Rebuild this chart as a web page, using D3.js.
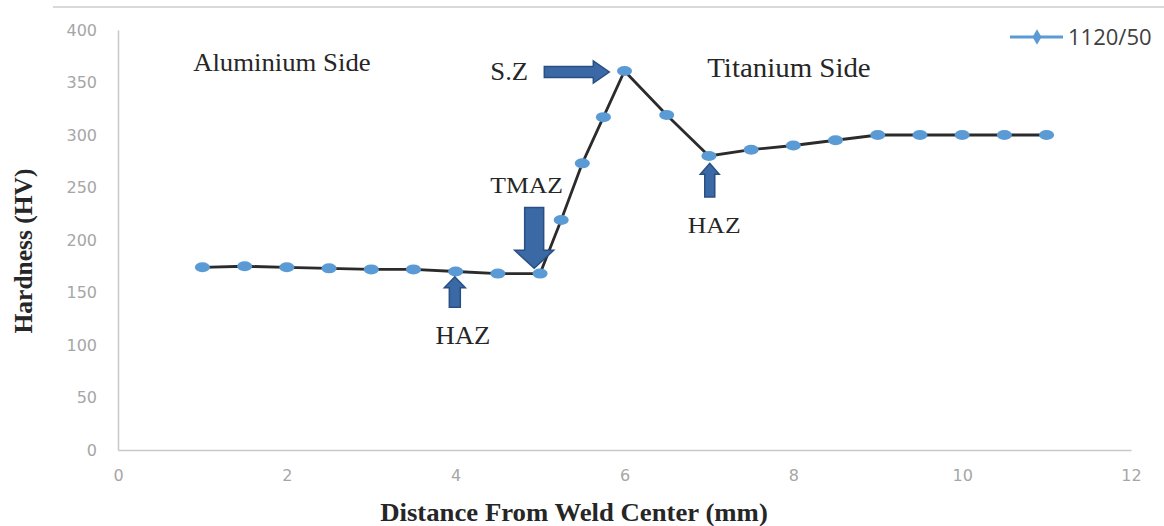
<!DOCTYPE html>
<html>
<head>
<meta charset="utf-8">
<script src="https://cdn.jsdelivr.net/npm/d3@7"></script>
<style>
  body { margin: 0; background: #fff; }
  svg { display: block; }
</style>
</head>
<body>
<svg id="chart" width="1164" height="526"></svg>
<script>
// hardness profile across the weld, 1120 rpm / 50 mm/min
const distance = [1, 1.5, 2, 2.5, 3, 3.5, 4, 4.5, 5, 5.25, 5.5, 5.75, 6, 6.5, 7, 7.5, 8, 8.5, 9, 9.5, 10, 10.5, 11];
const hardness = [174, 175, 174, 173, 172, 172, 170, 168, 168, 219, 273, 317, 361, 319, 280, 286, 290, 295, 300, 300, 300, 300, 300];

const xTicks = [0, 2, 4, 6, 8, 10, 12];
const yTicks = [0, 50, 100, 150, 200, 250, 300, 350, 400];

const seriesName = '1120/50';

// text notes, placed in data units (mm, HV)
const noteText = ['Aluminium Side', 'S.Z', 'Titanium Side', 'TMAZ', 'HAZ', 'HAZ'];
const noteX    = [0.89, 4.41, 6.98, 4.41, 3.76, 6.75];
const noteY    = [361, 352, 355, 245, 101, 207];
const noteSize = [25, 25, 27, 24, 25, 24];

// block arrows: tail -> tip, in data units
const arrowX1 = [5.05, 4.93, 3.99, 7.01];
const arrowY1 = [360, 231, 136, 241];
const arrowX2 = [5.82, 4.93, 3.99, 7.01];
const arrowY2 = [360, 173, 165, 273];
const arrowShaft = [11, 19, 11, 10];
const arrowHead  = [22, 39, 21, 19];
const arrowHeadL = [16, 18, 11, 11];

const data = distance.map((d, i) => ({ x: d, y: hardness[i] }));

const svg = d3.select('#chart');

const x = d3.scaleLinear().domain([0, 12]).range([118, 1131]);
const y = d3.scaleLinear().domain([0, 400]).range([450, 30]);

// the source picture is a little wider than tall, stretch text to suit
const stretch = 1.07;

// faint frame edge along the top
svg.append('line')
    .attr('x1', 53).attr('x2', 1164)
    .attr('y1', 7).attr('y2', 7)
    .attr('stroke', '#d9d9d9')
    .attr('stroke-width', 2);

let xAxis = svg.append('g')
    .attr('transform', 'translate(0,450)')
    .call(d3.axisBottom(x).tickValues(xTicks).tickSize(0).tickPadding(20));

let yAxis = svg.append('g')
    .attr('transform', 'translate(118,0)')
    .call(d3.axisLeft(y).tickValues(yTicks).tickSize(0).tickPadding(21));

[xAxis, yAxis].forEach(g => {
    g.select('.domain').attr('stroke', '#c8c8c8').attr('stroke-width', 1.5);
    g.selectAll('text')
        .attr('fill', '#a6a6a6')
        .style('font-family', 'DejaVu Sans')
        .style('font-size', '16px');
});

svg.append('text')
    .attr('transform', `translate(574,521) scale(${stretch},1)`)
    .attr('text-anchor', 'middle')
    .style('font-family', 'Liberation Serif')
    .style('font-weight', 'bold')
    .style('font-size', '25px')
    .attr('fill', '#262626')
    .text('Distance From Weld Center (mm)');

svg.append('text')
    .attr('transform', 'translate(32,251) rotate(-90)')
    .attr('text-anchor', 'middle')
    .style('font-family', 'Liberation Serif')
    .style('font-weight', 'bold')
    .style('font-size', '25.5px')
    .attr('fill', '#262626')
    .text('Hardness (HV)');

let line = d3.line()
    .x(d => x(d.x))
    .y(d => y(d.y));

svg.append('path')
    .datum(data)
    .attr('d', line)
    .attr('fill', 'none')
    .attr('stroke', '#2b2b2b')
    .attr('stroke-width', 2.8);

svg.append('g')
    .selectAll('ellipse')
    .data(data)
    .join('ellipse')
    .attr('cx', d => x(d.x))
    .attr('cy', d => y(d.y))
    .attr('rx', 7.5)
    .attr('ry', 5)
    .attr('fill', '#5b9bd5');

// block arrow outline from (x1,y1) to tip (x2,y2), pixel space
function blockArrow (x1, y1, x2, y2, sw, hw, hl) {
    let len = Math.hypot(x2 - x1, y2 - y1);
    let ux = (x2 - x1) / len, uy = (y2 - y1) / len;
    let nx = -uy, ny = ux;
    let bx = x2 - ux * hl, by = y2 - uy * hl;
    let pts = [
        [x1 + nx * sw / 2, y1 + ny * sw / 2],
        [bx + nx * sw / 2, by + ny * sw / 2],
        [bx + nx * hw / 2, by + ny * hw / 2],
        [x2, y2],
        [bx - nx * hw / 2, by - ny * hw / 2],
        [bx - nx * sw / 2, by - ny * sw / 2],
        [x1 - nx * sw / 2, y1 - ny * sw / 2]
    ];
    return 'M' + pts.map(p => p.join(',')).join('L') + 'Z';
}

svg.append('g')
    .selectAll('path')
    .data(arrowX1)
    .join('path')
    .attr('d', (d, i) => blockArrow(x(arrowX1[i]), y(arrowY1[i]), x(arrowX2[i]), y(arrowY2[i]),
        arrowShaft[i], arrowHead[i], arrowHeadL[i]))
    .attr('fill', '#3a69a6')
    .attr('stroke', '#2a4f82')
    .attr('stroke-width', 1.5);

svg.append('g')
    .selectAll('text')
    .data(noteText)
    .join('text')
    .attr('transform', (d, i) => `translate(${x(noteX[i])},${y(noteY[i])}) scale(${stretch},1)`)
    .style('font-family', 'Liberation Serif')
    .style('font-size', (d, i) => noteSize[i] + 'px')
    .attr('fill', '#262626')
    .text(d => d);

// legend
let legend = svg.append('g').attr('transform', 'translate(1010,37)');

legend.append('line')
    .attr('x1', 0).attr('x2', 53)
    .attr('stroke', '#5b9bd5')
    .attr('stroke-width', 3);

legend.append('path')
    .attr('d', d3.symbol(d3.symbolDiamond, 70))
    .attr('transform', 'translate(27,0)')
    .attr('fill', '#5b9bd5');

legend.append('text')
    .attr('x', 58)
    .attr('y', 8)
    .style('font-family', 'Open Sans')
    .style('font-size', '22px')
    .attr('fill', '#404040')
    .text(seriesName);
</script>
</body>
</html>
